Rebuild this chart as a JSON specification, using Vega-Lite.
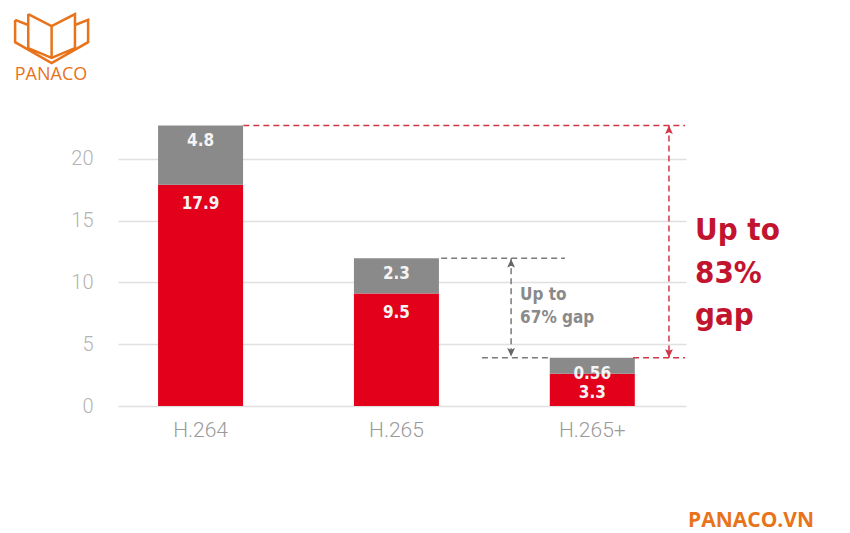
{
  "$schema": "https://vega.github.io/schema/vega-lite/v6.json",
  "width": 568,
  "height": 309,
  "autosize": {"type": "none"},
  "padding": {"left": 118, "top": 97, "right": 164, "bottom": 127},
  "background": "#ffffff",
  "config": {"view": {"stroke": null}},
  "datasets": {
    "bars": [
      {"codec": "H.264", "part": "base", "value": 17.9, "label": "17.9"},
      {"codec": "H.264", "part": "extra", "value": 4.8, "label": "4.8"},
      {"codec": "H.265", "part": "base", "value": 9.1, "label": "9.5"},
      {"codec": "H.265", "part": "extra", "value": 2.85, "label": "2.3"},
      {"codec": "H.265+", "part": "base", "value": 2.6, "label": "3.3"},
      {"codec": "H.265+", "part": "extra", "value": 1.3, "label": "0.56"}
    ],
    "lines": [
      {"kind": "red", "x1": 0.64, "x2": 2.895, "y1": 22.7, "y2": 22.7},
      {"kind": "red", "x1": 2.63, "x2": 2.895, "y1": 3.9, "y2": 3.9},
      {"kind": "red", "x1": 2.813, "x2": 2.813, "y1": 22.7, "y2": 3.9},
      {"kind": "gray", "x1": 1.65, "x2": 2.282, "y1": 11.95, "y2": 11.95},
      {"kind": "gray", "x1": 1.858, "x2": 2.195, "y1": 3.9, "y2": 3.9},
      {"kind": "gray", "x1": 2.007, "x2": 2.007, "y1": 11.95, "y2": 3.9}
    ],
    "arrows": [
      {"kind": "red", "dir": "up", "x": 2.813, "y": 22.7},
      {"kind": "red", "dir": "down", "x": 2.813, "y": 3.9},
      {"kind": "gray", "dir": "up", "x": 2.007, "y": 11.9},
      {"kind": "gray", "dir": "down", "x": 2.007, "y": 4.0}
    ],
    "notes": [
      {"kind": "gray", "x": 2.053, "y": 8.56, "text": "Up to"},
      {"kind": "gray", "x": 2.053, "y": 6.7, "text": "67% gap"},
      {"kind": "red", "x": 2.946, "y": 13.42, "text": "Up to"},
      {"kind": "red", "x": 2.946, "y": 9.98, "text": "83%"},
      {"kind": "red", "x": 2.946, "y": 6.53, "text": "gap"},
      {"kind": "brand", "x": -0.342, "y": 26.4, "text": "PANACO"},
      {"kind": "site", "x": 3.232, "y": -9.82, "text": "PANACO.VN"}
    ],
    "logo": [{"x": -0.339, "y": 29.73}]
  },
  "resolve": {"scale": {"x": "independent", "color": "independent", "shape": "independent"}},
  "layer": [
    {
      "data": {"name": "bars"},
      "transform": [
        {"stack": "value", "groupby": ["codec"], "sort": [{"field": "part", "order": "ascending"}], "as": ["v0", "v1"]}
      ],
      "encoding": {
        "x": {
          "field": "codec", "type": "nominal", "sort": ["H.264", "H.265", "H.265+"],
          "scale": {"paddingInner": 0.566, "paddingOuter": 0.233, "align": 0.439},
          "axis": {"title": null, "labelAngle": 0, "domain": false, "ticks": false, "labelColor": "#9a9a9a", "labelFont": "Roboto", "labelFontWeight": 300, "labelFontSize": 21, "labelPadding": 13, "labelBaseline": "top"}
        }
      },
      "layer": [
        {
          "mark": {"type": "bar"},
          "encoding": {
            "y": {
              "field": "v1", "type": "quantitative",
              "scale": {"domain": [0, 25], "nice": false, "zero": true},
              "axis": {"title": null, "values": [0, 5, 10, 15, 20], "grid": true, "gridColor": "#e0e0e0", "gridWidth": 1.5, "domain": false, "ticks": false, "labelColor": "#b3b3b3", "labelFont": "Roboto", "labelFontWeight": 300, "labelFontSize": 20, "labelPadding": 25}
            },
            "y2": {"field": "v0"},
            "color": {"field": "part", "type": "nominal", "scale": {"domain": ["base", "extra"], "range": ["#e3001b", "#8a8a8a"]}, "legend": null}
          }
        },
        {
          "transform": [{"filter": "datum.part === 'extra'"}],
          "mark": {"type": "text", "color": "#f4f4f4", "font": "DejaVu Sans Condensed", "fontWeight": "bold", "fontSize": 17, "baseline": "middle", "dy": 16},
          "encoding": {
            "y": {"field": "v1", "type": "quantitative", "scale": {"domain": [0, 25], "nice": false, "zero": true}},
            "text": {"field": "label"}
          }
        },
        {
          "transform": [{"filter": "datum.part === 'base'"}],
          "mark": {"type": "text", "color": "#f4f4f4", "font": "DejaVu Sans Condensed", "fontWeight": "bold", "fontSize": 17, "baseline": "middle", "dy": 19},
          "encoding": {
            "y": {"field": "v1", "type": "quantitative", "scale": {"domain": [0, 25], "nice": false, "zero": true}},
            "text": {"field": "label"}
          }
        }
      ]
    },
    {
      "data": {"name": "lines"},
      "mark": {"type": "rule", "strokeDash": [6, 4], "strokeWidth": 1.5},
      "encoding": {
        "x": {"field": "x1", "type": "quantitative", "scale": {"domain": [0, 2.9], "nice": false, "zero": false}, "axis": null},
        "x2": {"field": "x2"},
        "y": {"field": "y1", "type": "quantitative", "scale": {"domain": [0, 25], "nice": false}},
        "y2": {"field": "y2"},
        "color": {"field": "kind", "type": "nominal", "scale": {"domain": ["red", "gray"], "range": ["#d13646", "#7a7a7a"]}, "legend": null}
      }
    },
    {
      "data": {"name": "arrows"},
      "mark": {"type": "point", "filled": true, "opacity": 1, "size": 300},
      "encoding": {
        "x": {"field": "x", "type": "quantitative", "scale": {"domain": [0, 2.9], "nice": false, "zero": false}, "axis": null},
        "y": {"field": "y", "type": "quantitative", "scale": {"domain": [0, 25], "nice": false}},
        "shape": {"field": "dir", "type": "nominal", "scale": {"domain": ["up", "down"], "range": ["M0,0 L-0.45,1 L0,0.8 L0.45,1 Z", "M0,0 L-0.45,-1 L0,-0.8 L0.45,-1 Z"]}, "legend": null},
        "color": {"field": "kind", "type": "nominal", "scale": {"domain": ["red", "gray"], "range": ["#d13646", "#666666"]}, "legend": null}
      }
    },
    {
      "data": {"name": "notes"},
      "transform": [{"filter": "datum.kind === 'gray'"}],
      "mark": {"type": "text", "align": "left", "baseline": "alphabetic", "font": "DejaVu Sans Condensed", "fontWeight": "bold", "fontSize": 17, "color": "#8a8a8a"},
      "encoding": {
        "x": {"field": "x", "type": "quantitative", "scale": {"domain": [0, 2.9], "nice": false, "zero": false}, "axis": null},
        "y": {"field": "y", "type": "quantitative", "scale": {"domain": [0, 25], "nice": false}},
        "text": {"field": "text"}
      }
    },
    {
      "data": {"name": "notes"},
      "transform": [{"filter": "datum.kind === 'red'"}],
      "mark": {"type": "text", "align": "left", "baseline": "alphabetic", "font": "DejaVu Sans Condensed", "fontWeight": "bold", "fontSize": 31, "color": "#c2142f"},
      "encoding": {
        "x": {"field": "x", "type": "quantitative", "scale": {"domain": [0, 2.9], "nice": false, "zero": false}, "axis": null},
        "y": {"field": "y", "type": "quantitative", "scale": {"domain": [0, 25], "nice": false}},
        "text": {"field": "text"}
      }
    },
    {
      "data": {"name": "notes"},
      "transform": [{"filter": "datum.kind === 'brand'"}],
      "mark": {"type": "text", "align": "center", "baseline": "alphabetic", "font": "Open Sans", "fontSize": 18, "color": "#e8731a"},
      "encoding": {
        "x": {"field": "x", "type": "quantitative", "scale": {"domain": [0, 2.9], "nice": false, "zero": false}, "axis": null},
        "y": {"field": "y", "type": "quantitative", "scale": {"domain": [0, 25], "nice": false}},
        "text": {"field": "text"}
      }
    },
    {
      "data": {"name": "notes"},
      "transform": [{"filter": "datum.kind === 'site'"}],
      "mark": {"type": "text", "align": "center", "baseline": "alphabetic", "font": "Open Sans", "fontWeight": "bold", "fontSize": 21, "color": "#e8731a"},
      "encoding": {
        "x": {"field": "x", "type": "quantitative", "scale": {"domain": [0, 2.9], "nice": false, "zero": false}, "axis": null},
        "y": {"field": "y", "type": "quantitative", "scale": {"domain": [0, 25], "nice": false}},
        "text": {"field": "text"}
      }
    },
    {
      "data": {"name": "logo"},
      "mark": {
        "type": "point", "filled": false, "opacity": 1, "stroke": "#e8731a", "strokeWidth": 2.5, "strokeJoin": "miter", "size": 5329,
        "shape": "M-1,-0.51 L-1,0.1 L0,0.67 L1,0.1 L1,-0.51 L0.64,-0.37 M-1,-0.51 L-0.64,-0.37 M-0.64,-0.67 L-0.64,0.26 L0,0.53 L0.64,0.26 L0.64,-0.67 L0,-0.34 L-0.64,-0.67 M0,-0.34 L0,0.53"
      },
      "encoding": {
        "x": {"field": "x", "type": "quantitative", "scale": {"domain": [0, 2.9], "nice": false, "zero": false}, "axis": null},
        "y": {"field": "y", "type": "quantitative", "scale": {"domain": [0, 25], "nice": false}}
      }
    }
  ]
}
